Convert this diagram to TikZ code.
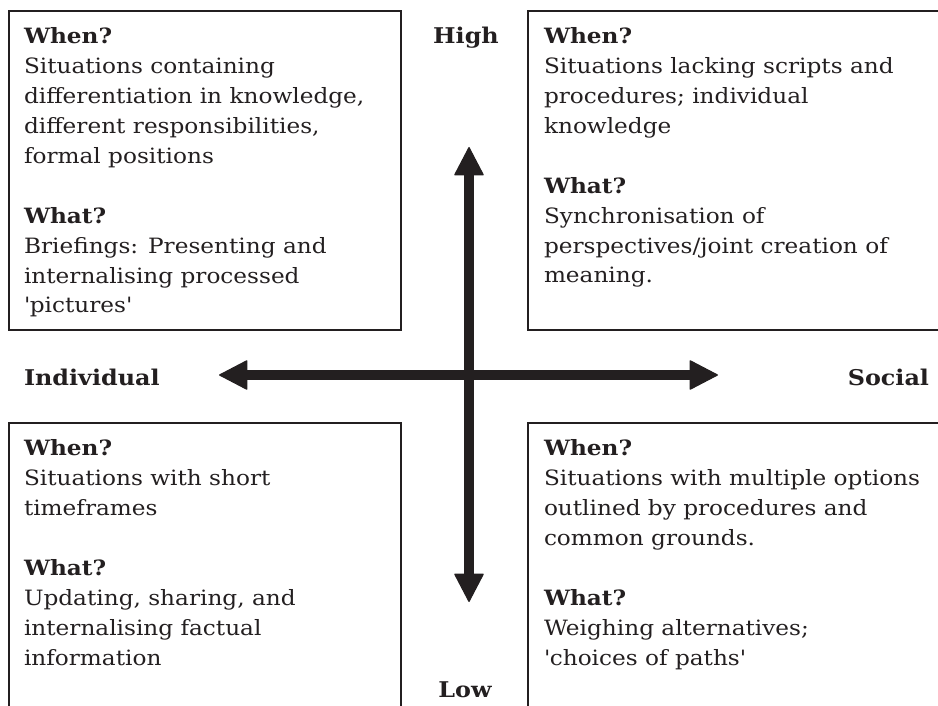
\documentclass[tikz,border=0pt]{standalone}
\usepackage{fontspec}
\setmainfont{DejaVu Serif}[FakeStretch=1.1]
\usetikzlibrary{arrows.meta}
\definecolor{c231f20}{RGB}{35,31,32}
\def \globalscale {1.000000}
\tikzset{
  quadbox/.style={draw=c231f20, line width=0.06cm},
  quadtext/.style={text=c231f20, anchor=base west, align=left, font=\fontsize{18}{25.6}\selectfont},
  axislabel/.style={text=c231f20, font=\bfseries\fontsize{18.5}{25.6}\selectfont},
  axisarrow/.style={draw=c231f20, line width=0.3cm,
    {Triangle[length=0.87cm, width=0.9cm, line width=1pt, round]}-{Triangle[length=0.87cm, width=0.9cm, line width=1pt, round]}}
}

\begin{document}
\begin{tikzpicture}[y=-0.03cm, x=0.03cm, yscale=\globalscale, xscale=\globalscale, every node/.append style={scale=\globalscale}, inner sep=0pt, outer sep=0pt]
  \useasboundingbox (0,0) rectangle (938,706);

  \path[quadbox] (9,11) rectangle (401,330);

  \path[quadbox] (528,11) rectangle (945,330);

  \path[quadbox] (9,423) rectangle (401,720);

  \path[quadbox] (528,423) rectangle (945,720);



  \coordinate (tiphigh) at (469,147);

  \coordinate (tiplow) at (469,602);

  \coordinate (tipindividual) at (219,375);

  \coordinate (tipsocial) at (718,375);

  \path[axisarrow] (tiphigh) -- (tiplow);

  \path[axisarrow] (tipindividual) -- (tipsocial);



  \node[axislabel,anchor=base] (texthigh) at (466,44){High};

  \node[axislabel,anchor=base] (textlow) at (465,697){Low};

  \node[axislabel,anchor=base west] (textindividual) at (24,385){Individual};

  \node[axislabel,anchor=base east] (textsocial) at (929,385){Social};



  % anchored at the baseline of the last line
  \node[quadtext] (textq1) at (24,313){\textbf{When?}\\Situations containing\\differentiation in knowledge,\\different responsibilities,\\formal positions\\[25.6pt]\textbf{What?}\\Briefings: Presenting and\\internalising processed\\\textquotesingle pictures\textquotesingle};

  \node[quadtext] (textq2) at (544,283){\textbf{When?}\\Situations lacking scripts and\\procedures; individual\\knowledge\\[25.6pt]\textbf{What?}\\Synchronisation of\\perspectives/joint creation of\\meaning.};

  \node[quadtext] (textq3) at (24,665){\textbf{When?}\\Situations with short\\timeframes\\[25.6pt]\textbf{What?}\\Updating, sharing, and\\internalising factual\\information};

  \node[quadtext] (textq4) at (544,665){\textbf{When?}\\Situations with multiple options\\outlined by procedures and\\common grounds.\\[25.6pt]\textbf{What?}\\Weighing alternatives;\\\textquotesingle choices of paths\textquotesingle};
\end{tikzpicture}
\end{document}
